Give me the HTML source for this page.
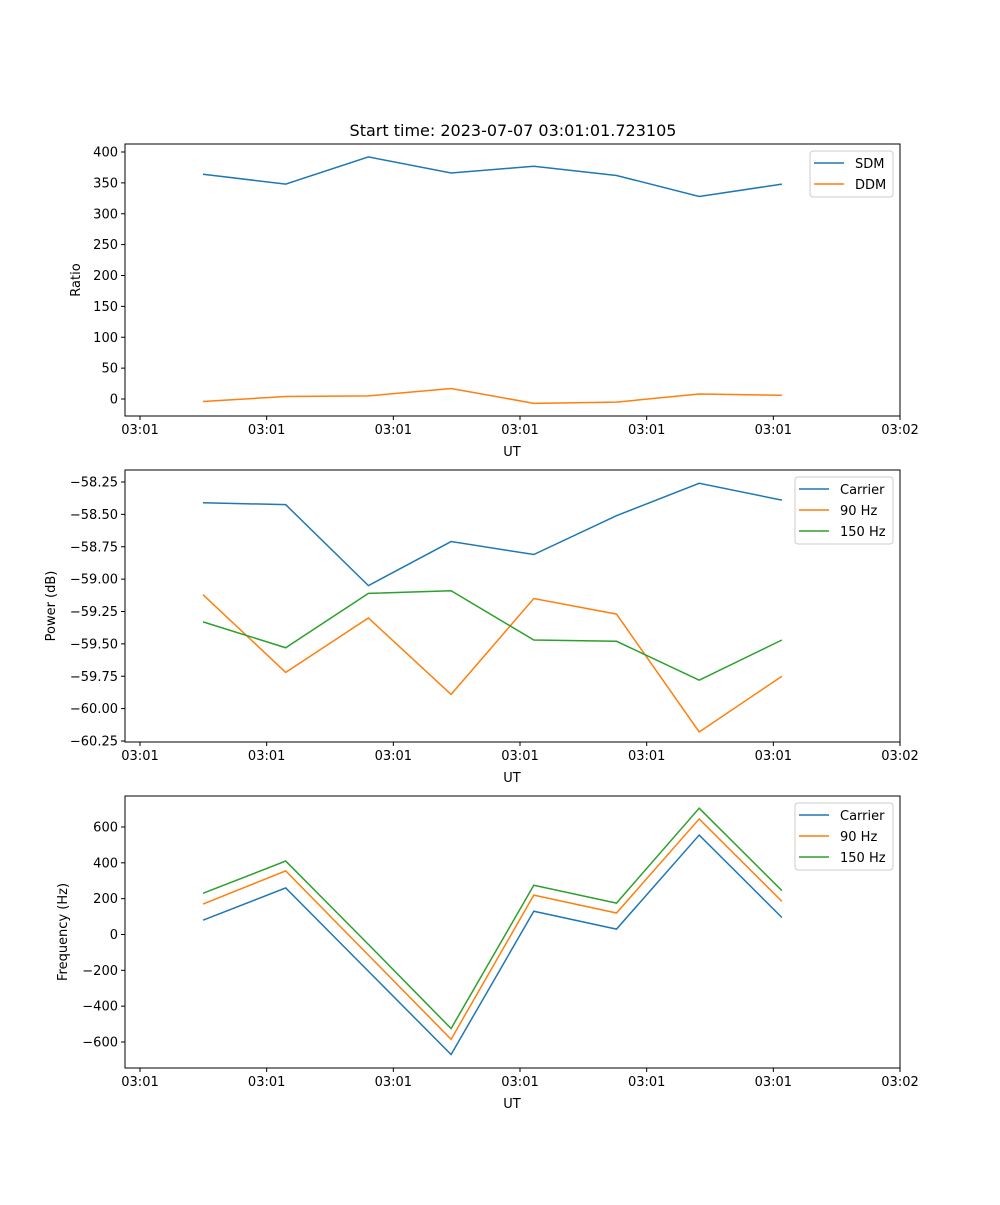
<!DOCTYPE html>
<html><head><meta charset="utf-8"><style>
body{margin:0;background:#fff}
svg text{font-family:"DejaVu Sans","Liberation Sans",sans-serif;font-size:13px;fill:#000}
</style></head><body>
<svg id="c" width="1000" height="1200" xmlns="http://www.w3.org/2000/svg">
<text x="513" y="136" text-anchor="middle" font-size="16" style="font-size:16px">Start time: 2023-07-07 03:01:01.723105</text>
</svg>
<script>
const xTickLabels=["03:01","03:01","03:01","03:01","03:01","03:01","03:02"];
const sdm=[364,348,392,366,377,362,328,348];
const ddm=[-4,4,5,17,-7,-5,8,6];
const pwrCarrier=[-58.41,-58.425,-59.05,-58.71,-58.81,-58.51,-58.26,-58.39];
const pwr90=[-59.12,-59.72,-59.30,-59.89,-59.15,-59.27,-60.18,-59.75];
const pwr150=[-59.33,-59.53,-59.11,-59.09,-59.47,-59.48,-59.78,-59.47];
const freqCarrier=[80,260,-205,-670,130,30,555,95];
const freq90=[170,355,-115,-585,220,120,645,185];
const freq150=[230,410,-55,-525,275,175,705,245];
const ratioTicks=[0,50,100,150,200,250,300,350,400];
const pwrTicks=[-60.25,-60.00,-59.75,-59.50,-59.25,-59.00,-58.75,-58.50,-58.25];
const freqTicks=[-600,-400,-200,0,200,400,600];
const C=['#1f77b4','#ff7f0e','#2ca02c'];
const svg=document.getElementById('c');const NS='http://www.w3.org/2000/svg';
function mk(t,a,p){const e=document.createElementNS(NS,t);for(const k in a)e.setAttribute(k,a[k]);(p||svg).appendChild(e);return e;}
const L=125,R=900;
const xs=i=>203+i*82.7;
const xt=i=>140+i*126.67;
function panel(name,top,bot,v0,y0,v1,y1,ticks,fmt,ylabel,series,names,legW){
 const g=mk('g',{});
 
 
 const ys=v=>y0+(v-v0)*(y1-y0)/(v1-v0);
 mk('rect',{x:L,y:top,width:R-L,height:bot-top,fill:'none',stroke:'#000','stroke-width':1},g);
 xTickLabels.forEach((s,i)=>{const x=xt(i);mk('line',{x1:x,x2:x,y1:bot,y2:bot+4,stroke:'#000'},g);
  const t=mk('text',{x:x,y:bot+18,'text-anchor':'middle'},g);t.textContent=s;
  
  });
 const xl=mk('text',{x:512,y:bot+40,'text-anchor':'middle'},g);xl.textContent='UT';
 
 
 ticks.forEach(v=>{const y=ys(v);mk('line',{x1:L-4,x2:L,y1:y,y2:y,stroke:'#000'},g);
  const t=mk('text',{x:L-7,y:y+4.5,'text-anchor':'end'},g);t.textContent=fmt(v);
  
  });
 const yl=mk('text',{x:0,y:0,'text-anchor':'middle',transform:`translate(${ylabel[1]},${(top+bot)/2}) rotate(-90)`},g);yl.textContent=ylabel[0];
 
 
 series.forEach((s,k)=>{const p=mk('polyline',{points:s.map((v,i)=>xs(i)+','+ys(v)).join(' '),fill:'none',stroke:C[k],'stroke-width':1.5},g);
  
  });
 const lx=R-7-legW,ly=top+7;
 const lg=mk('rect',{x:lx,y:ly,width:legW,height:names.length*21+4,rx:3,fill:'#fff',stroke:'#ccc'},g);
 
 
 names.forEach((n,k)=>{const y=ly+12+k*21;mk('line',{x1:lx+4,x2:lx+34,y1:y,y2:y,stroke:C[k],'stroke-width':1.5},g);
  const t=mk('text',{x:lx+45,y:y+5},g);t.textContent=n;
  
  });
}
panel('ratio-panel',144,416,400,152,0,399,ratioTicks,v=>String(v),['Ratio',80],[sdm,ddm],['SDM','DDM'],83);
panel('power-panel',470,742,-58.25,482,-60.25,741,pwrTicks,v=>'\u2212'+Math.abs(v).toFixed(2),['Power (dB)',55],[pwrCarrier,pwr90,pwr150],['Carrier','90 Hz','150 Hz'],98);
panel('frequency-panel',796,1068,600,827,-600,1042,freqTicks,v=>(v<0?'\u2212':'')+Math.abs(v),['Frequency (Hz)',67],[freqCarrier,freq90,freq150],['Carrier','90 Hz','150 Hz'],98);
</script>
</body></html>
